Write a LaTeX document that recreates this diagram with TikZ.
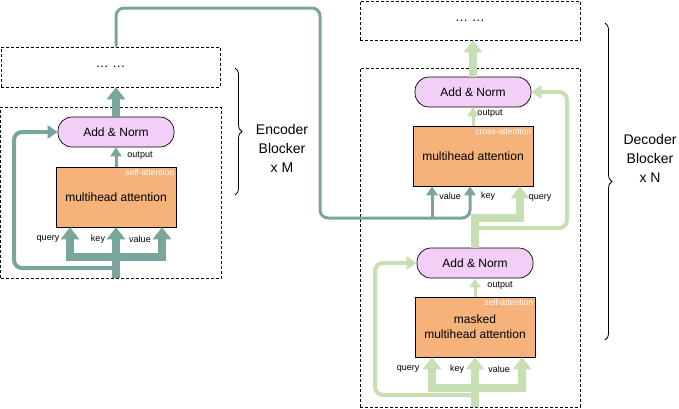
\documentclass[tikz,border=0pt]{standalone}
\usepackage{fontspec}
\setmainfont{Liberation Sans}
\usetikzlibrary{shapes,arrows.meta,decorations.pathreplacing,positioning,calc}

\definecolor{EncCol}{RGB}{122,165,157}
\definecolor{DecCol}{RGB}{199,223,178}
\definecolor{NormFill}{RGB}{243,206,247}
\definecolor{AttnFill}{RGB}{245,178,122}

\begin{document}
\begin{tikzpicture}[x=1pt,y=-1pt]
				\tikzstyle{Block}	= [draw, dash pattern=on 3pt off 2pt, line width=0.7pt, minimum width=220pt, inner sep=0pt, font=\fontsize{13}{14}\selectfont]
				\tikzstyle{Norm}	= [draw, rounded corners=14pt, fill=NormFill, minimum width=116pt, minimum height=30pt, line width=0.7pt, font=\fontsize{12}{14}\selectfont]
				\tikzstyle{Attn}	= [draw, fill=AttnFill, minimum width=120pt, minimum height=60pt, line width=0.5pt, align=center, font=\fontsize{12}{15}\selectfont]
				\tikzstyle{Tag}		= [anchor=north east, inner sep=2pt, text=white, font=\fontsize{8.5}{10}\selectfont]
				\tikzstyle{Port}	= [inner sep=0pt, font=\fontsize{9}{10}\selectfont]
				\tikzstyle{Side}	= [align=center, font=\fontsize{14}{19}\selectfont]
				\tikzstyle{Fat}		= [line width=8pt, -{Triangle[width=18pt,length=12pt]}]
				\tikzstyle{Thin}	= [line width=3pt, -{Triangle[width=11pt,length=9pt]}]
				\tikzstyle{Skip}	= [line width=4pt, rounded corners=8pt, -{Triangle[width=13pt,length=10pt]}]
				\tikzstyle{Link}	= [line width=3pt, rounded corners=8pt, -{Triangle[width=11pt,length=9pt]}]
				\tikzstyle{Brace}	= [decorate, decoration={brace, amplitude=7pt}, line width=0.8pt]
				
				\useasboundingbox (0,0) rectangle (679,408);
				
				% encoder
				\node (enctop) at (110.5,67) [Block, minimum width=219pt, minimum height=40pt] {… …};
				\node (encblk) at (110.75,192.5) [Block, minimum width=220.5pt, minimum height=171pt] {};
				\node (encnorm) at (116,132) [Norm] {Add \& Norm};
				\node (encmha) at (116,197) [Attn] {multihead attention};
				\node (enctag) at (encmha.north east) [Tag] {self-attention};
				\node (encout) at (140,156) [Port] {output};
				
				\coordinate (ein) at (encmha |- encblk.south);
				\coordinate (ebar) at (116,257);
				\coordinate (eq) at ($(encmha.south)+(-46,0)$);
				\coordinate (ev) at ($(encmha.south)+(46,0)$);
				\coordinate (eskip) at (116,268);
				\coordinate (eside) at (14,200);
				
				\node (encq) at (48,239) [Port] {query};
				\node (enck) at (98,239) [Port] {key};
				\node (encv) at (140,239) [Port] {value};
				
				\draw [Fat, EncCol] (ein) -- (encmha.south);
				\draw [Fat, EncCol] (ebar) -| (eq);
				\draw [Fat, EncCol] (ebar) -| (ev);
				\draw [Skip, EncCol] (eskip) -| (eside) |- (encnorm.west);
				\draw [Thin, EncCol] (encmha.north) -- (encnorm.south);
				\draw [Fat, EncCol] (encnorm.north) -- (encnorm |- enctop.south);
				
				\coordinate (ebr1) at (235,68);
				\coordinate (ebr2) at (235,195);
				\draw [Brace] (ebr1) -- (ebr2);
				\node (enclbl) at (282,148) [Side] {Encoder\\Blocker\\x M};
				
				% decoder
				\node (dectop) at (470,20.5) [Block, minimum height=39pt] {… …};
				\node (decblk) at (470,237.5) [Block, minimum height=339pt] {};
				\node (crossnorm) at (473,92) [Norm] {Add \& Norm};
				\node (crossmha) at (473,156) [Attn] {multihead attention};
				\node (crosstag) at (crossmha.north east) [Tag] {cross-attention};
				\node (crossout) at (490,114) [Port] {output};
				\node (decnorm) at (475,263) [Norm] {Add \& Norm};
				\node (decmha) at (475,327) [Attn] {masked\\multihead attention};
				\node (dectag) at (decmha.north east) [Tag] {self-attention};
				\node (decout) at (500,286) [Port] {output};
				
				\coordinate (dein) at (decmha |- decblk.south);
				\coordinate (dbar) at (475,388);
				\coordinate (dq) at ($(decmha.south)+(-43,0)$);
				\coordinate (dv) at ($(decmha.south)+(47,0)$);
				\coordinate (dskip) at (475,395);
				\coordinate (dside) at (375,330);
				
				\node (decq) at (408,369) [Port] {query};
				\node (deck) at (457,369) [Port] {key};
				\node (decv) at (499,369) [Port] {value};
				
				\draw [Fat, DecCol] (dein) -- (decmha.south);
				\draw [Fat, DecCol] (dbar) -| (dq);
				\draw [Fat, DecCol] (dbar) -| (dv);
				\draw [Skip, DecCol] (dskip) -| (dside) |- (decnorm.west);
				\draw [Thin, DecCol] (decmha.north) -- (decnorm.south);
				
				% cross attention inputs
				\coordinate (cv) at ($(crossmha.south)+(-41,0)$);
				\coordinate (ck) at ($(crossmha.south)+(-3,0)$);
				\coordinate (cq) at ($(crossmha.south)+(47,0)$);
				\coordinate (gbar) at (475,218);
				\coordinate (gskip) at (475,228);
				\coordinate (gside) at (567,150);
				\coordinate (lk1) at (320,8);
				\coordinate (lk2) at (320,218);
				
				\draw [Fat, DecCol] (decnorm.north) -- (gbar) -| (cq);
				\draw [Skip, DecCol] (gskip) -| (gside) |- (crossnorm.east);
				\draw [Link, EncCol] (encnorm |- enctop.north) |- (lk1) -- (lk2) -| (ck);
				\draw [Thin, EncCol] (cv |- lk2) -- (cv);
				\draw [Thin, DecCol] (crossmha.north) -- (crossnorm.south);
				\draw [Fat, DecCol] (crossnorm.north) -- (crossnorm |- dectop.south);
				
				\node (crossv) at (450,196) [Port] {value};
				\node (crossk) at (488,196) [Port] {key};
				\node (crossq) at (540,198) [Port] {query};
				
				\coordinate (dbr1) at (605,23);
				\coordinate (dbr2) at (605,340);
				\draw [Brace] (dbr1) -- (dbr2);
				\node (declbl) at (650,158) [Side] {Decoder\\Blocker\\x N};
			\end{tikzpicture}
\end{document}
